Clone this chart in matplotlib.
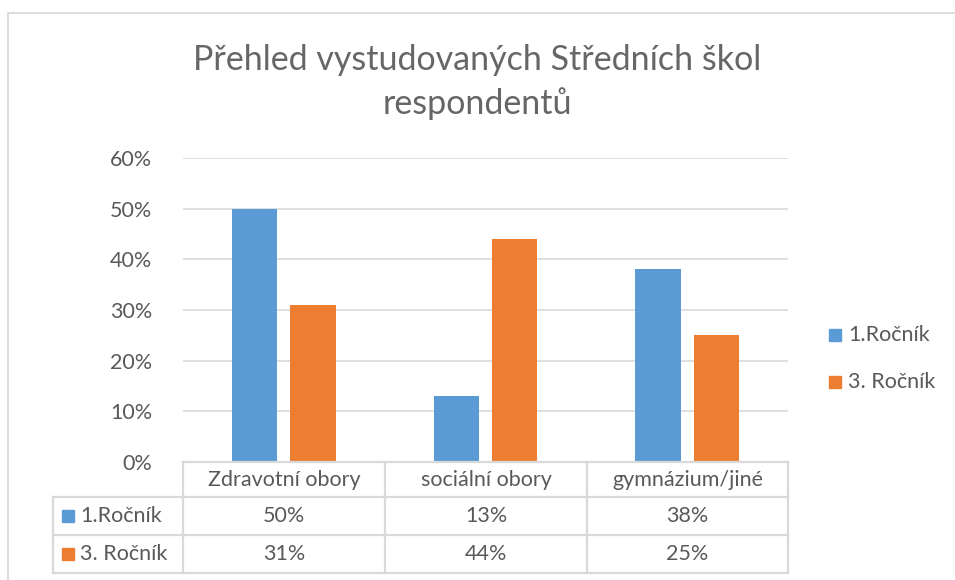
import matplotlib.pyplot as plt
from matplotlib.patches import Rectangle

plt.rcParams['font.family'] = ['Lato', 'DejaVu Sans']

categories = ['Zdravotní obory', 'sociální obory', 'gymnázium/jiné']
series_names = ['1.Ročník', '3. Ročník']
rocnik1 = [50, 13, 38]
rocnik3 = [31, 44, 25]
yticks = [0, 10, 20, 30, 40, 50, 60]

colors = ['#5b9bd5', '#ed7d31']
txt = '#595959'
grid = '#d9d9d9'
fs = 15.5

W, H = 955, 580
fig = plt.figure(figsize=(W / 100, H / 100), dpi=100)

# chart frame
fig.patches.append(Rectangle((8 / W, -0.1), 1.2, (H - 12.5) / H + 0.1,
                             transform=fig.transFigure, fill=False,
                             edgecolor=grid, lw=1.3))

x0, x1, y0, y1 = 183, 788, 462, 158
ax = fig.add_axes([x0 / W, 1 - y0 / H, (x1 - x0) / W, (y0 - y1) / H])

n = len(categories)
bw = 0.225
gap = 0.065
for i in range(n):
    ax.bar(i - (bw + gap) / 2, rocnik1[i], width=bw, color=colors[0], zorder=2)
    ax.bar(i + (bw + gap) / 2, rocnik3[i], width=bw, color=colors[1], zorder=2)

ax.set_xlim(-0.5, n - 0.5)
ax.set_ylim(0, 60)
ax.set_yticks(yticks)
ax.set_yticklabels([f'{t}%' for t in yticks], color=txt, fontsize=fs)
ax.tick_params(axis='y', length=0, pad=22)
ax.set_xticks([])
ax.grid(axis='y', color=grid, lw=1.2, zorder=0)
for s in ax.spines.values():
    s.set_visible(False)

fig.text(0.5, 1 - 82 / H, 'Přehled vystudovaných Středních škol\nrespondentů',
         ha='center', va='center', fontsize=24.5, color='#666666', linespacing=1.38)

# data table
def fx(px):
    return px / W

def fy(py):
    return 1 - py / H

rows = [462, 497, 535, 573]
cols = [183, 385, 587, 788]
lkw = dict(color=grid, lw=1.6, transform=fig.transFigure)
for r in rows:
    left = 183 if r == 462 else 53
    fig.add_artist(plt.Line2D([fx(left), fx(788)], [fy(r), fy(r)], **lkw))
for c in cols:
    fig.add_artist(plt.Line2D([fx(c), fx(c)], [fy(462), fy(573)], **lkw))
fig.add_artist(plt.Line2D([fx(53), fx(53)], [fy(497), fy(573)], **lkw))

for j, cat in enumerate(categories):
    fig.text(fx((cols[j] + cols[j + 1]) / 2), fy((rows[0] + rows[1]) / 2), cat,
             ha='center', va='center', fontsize=fs, color=txt)

for k, (name, vals) in enumerate(zip(series_names, [rocnik1, rocnik3])):
    ym = (rows[k + 1] + rows[k + 2]) / 2
    fig.patches.append(Rectangle((fx(62), fy(ym + 6)), 12 / W, 12 / H,
                                 transform=fig.transFigure, color=colors[k]))
    fig.text(fx(80), fy(ym), name, ha='left', va='center', fontsize=fs, color=txt)
    for j, v in enumerate(vals):
        fig.text(fx((cols[j] + cols[j + 1]) / 2), fy(ym), f'{v}%',
                 ha='center', va='center', fontsize=fs, color=txt)

# legend
for k, name in enumerate(series_names):
    ly = 335 + k * 47
    fig.patches.append(Rectangle((fx(829), fy(ly + 6)), 12 / W, 12 / H,
                                 transform=fig.transFigure, color=colors[k]))
    fig.text(fx(848), fy(ly), name, ha='left', va='center', fontsize=fs, color=txt)

fig.savefig('out.png', dpi=100)
